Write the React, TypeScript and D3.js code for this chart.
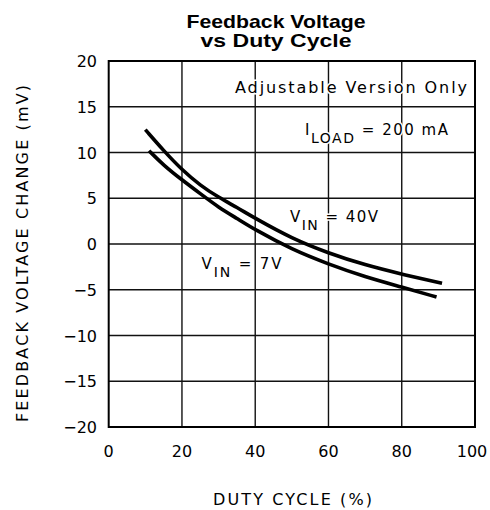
import React, { useEffect, useRef } from 'react';
import * as d3 from 'd3';

// duty cycle (%) vs feedback voltage change (mV)
const duty40 = [10, 15, 20, 25, 30, 35, 40, 50, 60, 70, 80, 91];
const v40 = [12.5, 10.2, 8.1, 6.4, 5.1, 4.0, 2.8, 0.6, -1.0, -2.3, -3.3, -4.3];
const duty7 = [11, 15, 20, 25, 30, 35, 40, 50, 60, 70, 80, 89.5];
const v7 = [10.2, 8.6, 7.0, 5.5, 4.0, 2.8, 1.55, -0.6, -2.2, -3.6, -4.7, -5.8];

const xTicks = [0, 20, 40, 60, 80, 100];
const yTicks = [-20, -15, -10, -5, 0, 5, 10, 15, 20];

const FONT = '"DejaVu Sans", sans-serif';

const App = () => {
  const svgRef = useRef(null);

  useEffect(() => {
    const svg = d3.select(svgRef.current);
    svg.selectAll('*').remove();

    const x = d3.scaleLinear().domain([0, 100]).range([108.7, 475]);
    const y = d3.scaleLinear().domain([-20, 20]).range([427, 61]);

    // title
    const titleLine = (txt, yy, len) =>
      svg
        .append('text')
        .attr('x', 276)
        .attr('y', yy)
        .attr('text-anchor', 'middle')
        .attr('textLength', len)
        .attr('lengthAdjust', 'spacingAndGlyphs')
        .style('font-family', '"Liberation Sans", Arial, sans-serif')
        .style('font-weight', 'bold')
        .style('font-size', '18.5px')
        .text(txt);
    titleLine('Feedback Voltage', 27.5, 179);
    titleLine('vs Duty Cycle', 47, 151);

    // grid
    const grid = svg.append('g').attr('stroke', '#111').attr('stroke-width', 1.4);
    grid
      .selectAll('.vx')
      .data(xTicks.slice(1, -1))
      .join('line')
      .attr('x1', (d) => x(d))
      .attr('x2', (d) => x(d))
      .attr('y1', y(-20))
      .attr('y2', y(20));
    grid
      .selectAll('.hy')
      .data(yTicks.slice(1, -1))
      .join('line')
      .attr('x1', x(0))
      .attr('x2', x(100))
      .attr('y1', (d) => y(d))
      .attr('y2', (d) => y(d));

    // curves
    const line = d3
      .line()
      .x((d) => x(d[0]))
      .y((d) => y(d[1]))
      .curve(d3.curveBasis);
    const series = [d3.zip(duty40, v40), d3.zip(duty7, v7)];
    svg
      .selectAll('.curve')
      .data(series)
      .join('path')
      .attr('d', (d) => line(d))
      .attr('fill', 'none')
      .attr('stroke', '#000')
      .attr('stroke-width', 3.6);

    // frame
    svg
      .append('rect')
      .attr('x', x(0))
      .attr('y', y(20))
      .attr('width', x(100) - x(0))
      .attr('height', y(-20) - y(20))
      .attr('fill', 'none')
      .attr('stroke', '#000')
      .attr('stroke-width', 2);

    const txt = (g) => g.style('font-family', FONT).attr('fill', '#000');

    // y tick labels
    svg
      .selectAll('.yt')
      .data(yTicks)
      .join('text')
      .call(txt)
      .attr('x', 97)
      .attr('y', (d) => y(d) + 6)
      .attr('text-anchor', 'end')
      .style('font-size', '16px')
      .text((d) => (d < 0 ? '\u2212' + Math.abs(d) : d));

    // x tick labels
    svg
      .selectAll('.xt')
      .data(xTicks)
      .join('text')
      .call(txt)
      .attr('x', (d) => (d === 100 ? x(d) - 3 : x(d)))
      .attr('y', 456.5)
      .attr('text-anchor', 'middle')
      .style('font-size', '16px')
      .text((d) => d);

    // axis titles
    svg
      .append('text')
      .call(txt)
      .attr('x', 292.5)
      .attr('y', 505)
      .attr('text-anchor', 'middle')
      .style('font-size', '16px')
      .attr('textLength', 159)
      .attr('lengthAdjust', 'spacing')
      .text('DUTY CYCLE (%)');
    svg
      .append('text')
      .call(txt)
      .attr('transform', 'translate(28,253.5) rotate(-90)')
      .attr('text-anchor', 'middle')
      .style('font-size', '16px')
      .attr('textLength', 337)
      .attr('lengthAdjust', 'spacing')
      .text('FEEDBACK VOLTAGE CHANGE (mV)');

    // annotations with white halo over the grid
    const halo = (g) =>
      g
        .call(txt)
        .attr('stroke', '#fff')
        .attr('stroke-width', 3)
        .attr('paint-order', 'stroke')
        .style('font-size', '16px');

    svg
      .append('text')
      .call(halo)
      .attr('x', 467)
      .attr('y', 92.5)
      .attr('text-anchor', 'end')
      .attr('textLength', 232)
      .attr('lengthAdjust', 'spacing')
      .text('Adjustable Version Only');

    const sub = (x0, y0, len, main, subText, rest) => {
      const t = svg
        .append('text')
        .call(halo)
        .style('font-size', '15px')
        .attr('x', x0)
        .attr('y', y0)
        .attr('textLength', len)
        .attr('lengthAdjust', 'spacing');
      t.append('tspan').text(main);
      t.append('tspan').attr('dy', 8).style('font-size', '14px').text(subText);
      t.append('tspan').attr('dy', -8).text(rest);
    };
    sub(305, 135, 143, 'I', 'LOAD', ' = 200 mA');
    sub(290, 221.5, 88, 'V', 'IN', ' = 40V');
    sub(201.5, 268.5, 80, 'V', 'IN', ' = 7V');
  }, []);

  return (
    <svg
      ref={svgRef}
      width={490}
      height={510}
      style={{ position: 'absolute', left: 0, top: 0, background: '#fff' }}
    />
  );
};

export default App;
